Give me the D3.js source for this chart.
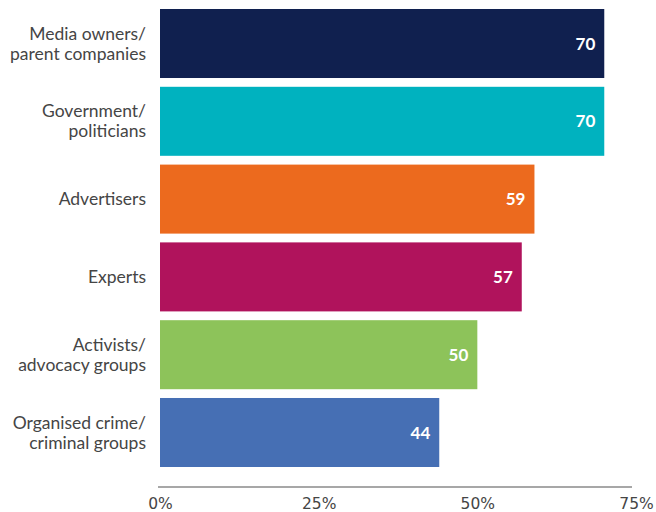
<!DOCTYPE html>
<html>
<head>
<meta charset="utf-8">
<script src="https://cdn.jsdelivr.net/npm/d3@7"></script>
<style>
  html, body { margin: 0; padding: 0; background: #fff; }
  svg { display: block; }
</style>
</head>
<body>
<div id="chart"></div>
<script>
// Who is seen as a threat to media freedom (% of respondents)
const categories = [
  ["Media owners/", "parent companies"],
  ["Government/", "politicians"],
  ["Advertisers"],
  ["Experts"],
  ["Activists/", "advocacy groups"],
  ["Organised crime/", "criminal groups"]
];
const values = [70, 70, 59, 57, 50, 44];
const barColors = ["#10204f", "#00b2bf", "#ec6a1e", "#b0135c", "#8dc35a", "#466fb4"];
const tickValues = [0, 25, 50, 75];
const tickLabels = ["0%", "25%", "50%", "75%"];

const width = 656, height = 512;
const margin = { top: 9, left: 160 };

const svg = d3.select("#chart").append("svg")
  .attr("width", width).attr("height", height);

const x = d3.scaleLinear().domain([0, 75]).range([margin.left, 636]);
const y = d3.scaleBand()
  .domain(d3.range(categories.length))
  .range([margin.top, 467])
  .paddingInner(0.113)
  .paddingOuter(0);

// bars
svg.selectAll("rect.bar")
  .data(values)
  .join("rect")
  .attr("class", "bar")
  .attr("x", x(0))
  .attr("y", (d, i) => y(i))
  .attr("width", d => x(d) - x(0))
  .attr("height", y.bandwidth())
  .attr("fill", (d, i) => barColors[i]);

// value labels inside bar ends
svg.selectAll("text.val")
  .data(values)
  .join("text")
  .attr("class", "val")
  .attr("x", d => x(d) - 9)
  .attr("y", (d, i) => y(i) + y.bandwidth() / 2)
  .attr("dy", "0.36em")
  .attr("text-anchor", "end")
  .attr("fill", "#fff")
  .attr("font-family", "Lato, 'Open Sans', sans-serif")
  .attr("font-weight", 700)
  .attr("font-size", 17)
  .text(d => d);

// category labels, wrapped over lines
const lineH = 20;
const catG = svg.selectAll("text.cat")
  .data(categories)
  .join("text")
  .attr("class", "cat")
  .attr("text-anchor", "end")
  .attr("fill", "#454545")
  .attr("font-family", "Lato, 'Open Sans', sans-serif")
  .attr("font-size", 17.5)
  .attr("transform", (d, i) => `translate(146,${y(i) + y.bandwidth() / 2})`);

catG.selectAll("tspan")
  .data(d => d.map((t, j) => ({ t, j, n: d.length })))
  .join("tspan")
  .attr("x", 0)
  .attr("y", d => (d.j - (d.n - 1) / 2) * lineH)
  .attr("dy", "0.35em")
  .text(d => d.t);

// x axis
const axis = d3.axisBottom(x)
  .tickValues(tickValues)
  .tickFormat((d, i) => tickLabels[i])
  .tickSize(0)
  .tickPadding(11);

const axG = svg.append("g")
  .attr("transform", "translate(0,487)")
  .call(axis);

axG.select(".domain")
  .attr("d", `M${x(0) - 2},0H${x(75) - 4}`)
  .attr("stroke", "#8a8a8a")
  .attr("stroke-width", 1.5);

axG.selectAll(".tick text")
  .attr("fill", "#454545")
  .attr("font-family", "'DejaVu Sans', sans-serif")
  .attr("font-size", 15.5);
</script>
</body>
</html>
